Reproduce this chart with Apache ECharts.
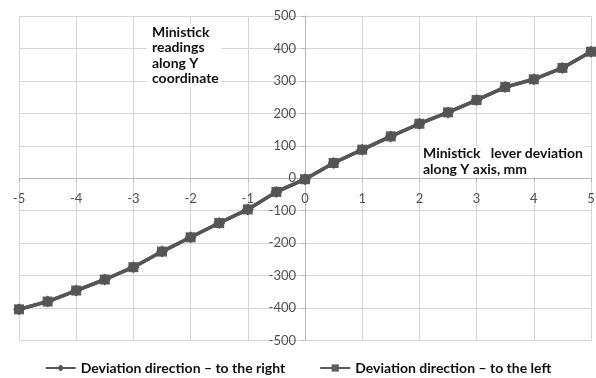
<!DOCTYPE html>
<html>
<head>
<meta charset="utf-8">
<script src="https://cdn.jsdelivr.net/npm/echarts@6/dist/echarts.min.js"></script>
<style>html,body{margin:0;padding:0;background:#fff;}#c{width:596px;height:378px;}</style>
</head>
<body>
<div id="c"></div>
<script>
var xValues = [-5, -4.5, -4, -3.5, -3, -2.5, -2, -1.5, -1, -0.5, 0, 0.5, 1, 1.5, 2, 2.5, 3, 3.5, 4, 4.5, 5];
var rightValues = [-404, -380, -346, -312, -274, -226, -182, -138, -96, -42, -3, 47, 88, 129, 168, 203, 241, 281, 305, 340, 390];
var leftValues = [-404, -380, -346, -312, -274, -226, -182, -138, -96, -42, -3, 47, 88, 129, 168, 203, 241, 281, 305, 340, 390];
var seriesNames = ['Deviation direction \u2013 to the right', 'Deviation direction \u2013 to the left'];
var annotationY = 'Ministick\nreadings\nalong Y\ncoordinate';
var annotationX = 'Ministick   lever deviation\nalong Y axis, mm';

function pairs(xs, ys) { return xs.map(function (x, i) { return [x, ys[i]]; }); }

var W = 596, H = 378;
var G = {left: 19, right: 5, top: 16, bottom: 37.5};
var xMin = -5, xMax = 5, yMin = -500, yMax = 500;
var plotW = W - G.left - G.right, plotH = H - G.top - G.bottom;
// move each axis (line, ticks, labels) onto the other axis's zero
var yAxisOffset = -plotW * (0 - xMin) / (xMax - xMin);
var xAxisOffset = -plotH * (0 - yMin) / (yMax - yMin);

var chart = echarts.init(document.getElementById('c'), null, {renderer: 'canvas'});
var FONT = 'Lato';
var LABEL = '#505050';
chart.setOption({
  animation: false,
  textStyle: {fontFamily: FONT},
  grid: {left: G.left, right: G.right, top: G.top, bottom: G.bottom, containLabel: false, outerBoundsMode: 'none'},
  title: [
    {text: annotationY, left: 147, top: 24, padding: [1, 3, 1, 5], backgroundColor: '#fff',
     textStyle: {fontFamily: FONT, fontWeight: 'bold', fontSize: 14, lineHeight: 15.3, color: '#111'}},
    {text: annotationX, left: 421, top: 146, padding: [0, 2, 0, 2], backgroundColor: '#fff',
     textStyle: {fontFamily: FONT, fontWeight: 'bold', fontSize: 14, lineHeight: 15.5, color: '#111'}}
  ],
  legend: {
    bottom: -2, left: 'center', itemGap: 34, itemWidth: 30, itemHeight: 9,
    textStyle: {fontFamily: FONT, fontWeight: 'bold', fontSize: 14, color: '#111'},
    data: seriesNames
  },
  xAxis: {
    type: 'value', min: xMin, max: xMax, interval: 1, position: 'bottom', offset: xAxisOffset,
    axisLine: {onZero: false, lineStyle: {color: '#b5b5b5', width: 1}},
    axisTick: {show: true, length: 4, lineStyle: {color: '#b5b5b5'}},
    axisLabel: {color: LABEL, fontSize: 13, margin: 14, fontFamily: FONT},
    splitLine: {show: true, lineStyle: {color: '#d6d6d6', width: 1}}
  },
  yAxis: {
    type: 'value', min: yMin, max: yMax, interval: 100, position: 'left', offset: yAxisOffset,
    axisLine: {onZero: false, lineStyle: {color: '#b5b5b5', width: 1}},
    axisTick: {show: true, length: 4, lineStyle: {color: '#b5b5b5'}},
    axisLabel: {color: LABEL, fontSize: 13, margin: 9, fontFamily: FONT},
    splitLine: {show: true, lineStyle: {color: '#d6d6d6', width: 1}}
  },
  series: [
    {name: seriesNames[0], type: 'line', data: pairs(xValues, rightValues),
     symbol: 'diamond', symbolSize: 12, itemStyle: {color: '#555'},
     lineStyle: {color: '#555', width: 3.5}, z: 3},
    {name: seriesNames[1], type: 'line', data: pairs(xValues, leftValues),
     symbol: 'rect', symbolSize: 10, itemStyle: {color: '#5c5c5c'},
     lineStyle: {color: '#5c5c5c', width: 3.5}, z: 2}
  ]
});
</script>
</body>
</html>
